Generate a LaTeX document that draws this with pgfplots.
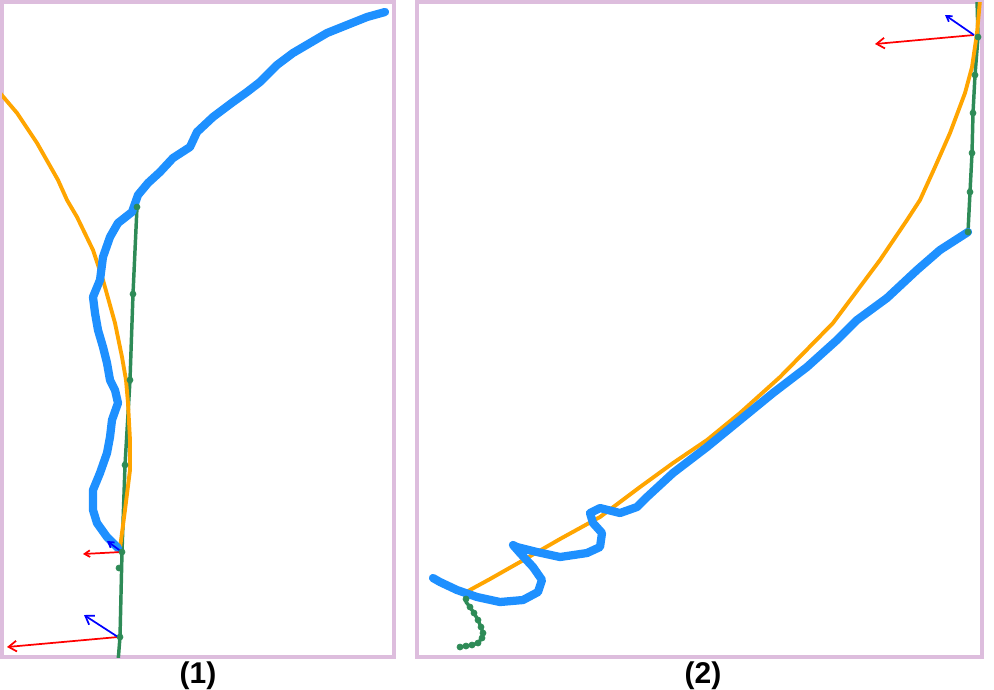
\documentclass[border=0pt]{standalone}
\usepackage{pgfplots}
\pgfplotsset{compat=1.18}
\usepackage{fontspec}
\setmainfont{Liberation Sans}
\usetikzlibrary{arrows.meta}
\definecolor{frame}{HTML}{DDBDDD}
\definecolor{cblue}{HTML}{1E90FF}
\definecolor{corange}{HTML}{FFA500}
\definecolor{cgreen}{HTML}{2E8B57}
\begin{document}
\begin{tikzpicture}
\path[use as bounding box] (0,0) rectangle (745.5pt,-516.75pt);
\pgfplotsset{panel/.style={scale only axis, y dir=reverse, ymin=2, ymax=657,
  xtick=\empty, ytick=\empty, axis line style={frame, line width=2.3pt},
  anchor=south west},
  blueline/.style={cblue, line width=6.2pt, line join=round, line cap=round, mark=none},
  orangeline/.style={corange, line width=2.9pt, line join=round, mark=none},
  greenline/.style={cgreen, line width=2.6pt, line join=round, mark=none},
  greendots/.style={cgreen, only marks, mark=*, mark size=2.3pt},
  bigarr/.style={line width=1.3pt, mark=none, -{Straight Barb[length=6pt,width=8pt]}},
  smallarr/.style={line width=1.3pt, mark=none, -{Straight Barb[length=4pt,width=5pt]}}}
% Panel 1
\begin{axis}[panel, at={(1.5pt,-492.75pt)}, width=294pt, height=491.25pt, xmin=2, xmax=394]
\addplot[greenline] coordinates {(137,207) (133,294) (130,380) (125,465) (122,552) (120,637) (118,662)};
\addplot[greendots] coordinates {(137,207) (133,294) (130,380) (125,465) (122,552) (119,568) (120,637)};
\addplot[orangeline] coordinates {(0,93) (17,113) (37,143) (58,180) (67,200) (77,217) (93,250) (103,280) (115,323) (122,357) (126,380) (128,403) (130,440) (130,470) (125,510) (120,548)};
\addplot[blueline] coordinates {(385,12) (367,17) (347,25) (327,33) (310,43) (293,53) (277,65) (260,82) (247,92) (233,102) (213,117) (197,132) (190,147) (173,158) (160,172) (148,183) (138,195) (132,212) (118,223) (110,237) (103,257) (100,280) (93,297) (95,313) (98,330) (103,347) (107,363) (110,380) (115,390) (118,403) (112,420) (110,437) (107,453) (100,473) (93,490) (93,510) (97,523) (107,537) (118,548)};
\addplot[red, smallarr] coordinates {(121,552) (83,554)};
\addplot[blue, smallarr] coordinates {(122,552) (107,541)};
\addplot[red, bigarr] coordinates {(118,637) (7,647)};
\addplot[blue, bigarr] coordinates {(118,637) (84,615)};
\end{axis}
% Panel 2
\begin{axis}[panel, at={(312.75pt,-492.75pt)}, width=423.75pt, height=491.25pt, xmin=417, xmax=982]
\addplot[greenline] coordinates {(968,232) (970,192) (972,153) (973,113) (975,75) (978,37) (977,0)};
\addplot[greendots] coordinates {(968,232) (970,192) (972,153) (973,113) (975,75) (978,37)};
\addplot[greenline] coordinates {(465,593) (466,602) (470,607) (474,613) (478,620) (481,627) (483,633) (482,638) (478,643) (472,645) (466,646) (460,647)};
\addplot[greendots] coordinates {(466,599) (470,607) (474,613) (478,620) (481,627) (483,633) (482,638) (478,643) (472,645) (466,646) (460,647)};
\addplot[orangeline] coordinates {(980,0) (977,33) (972,67) (965,93) (950,133) (935,167) (920,200) (907,220) (880,260) (833,323) (780,377) (740,413) (707,440) (673,463) (640,487) (600,517) (560,539) (520,562) (490,579) (468,591)};
\addplot[blueline] coordinates {(968,232) (940,250) (917,270) (887,298) (857,320) (837,340) (807,367) (773,393) (740,420) (707,447) (673,473) (647,497) (637,507) (620,513) (600,508) (590,513) (593,523) (602,533) (600,547) (587,553) (560,557) (537,552) (517,547) (513,545) (520,553) (533,567) (542,580) (538,592) (523,600) (500,602) (477,597) (457,590) (440,582) (433,578)};
\addplot[red, bigarr] coordinates {(974,35) (875,44)};
\addplot[blue, smallarr] coordinates {(974,35) (945,15)};
\end{axis}
\node[font=\fontsize{22.5}{24}\selectfont\bfseries] at (148.5pt,-507pt) {(1)};
\node[font=\fontsize{22.5}{24}\selectfont\bfseries] at (527.25pt,-507pt) {(2)};
\end{tikzpicture}
\end{document}
